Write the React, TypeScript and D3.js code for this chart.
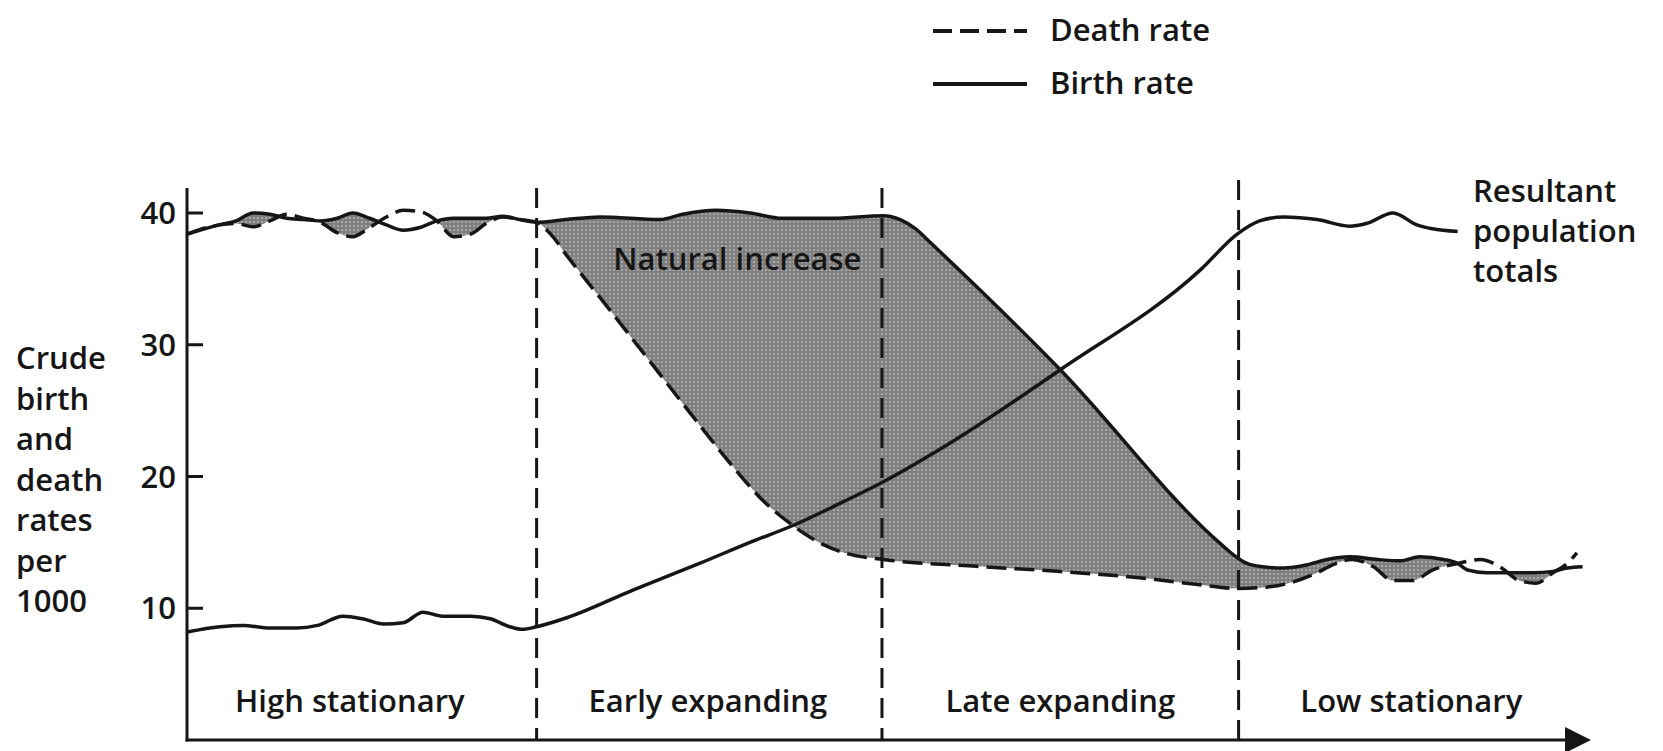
import React from 'react';
import * as d3 from 'd3';

const W = 1663;
const H = 751;

// ---- data (x: position along time axis 0..100, y: rate per 1000) ----
const yTicks = [10, 20, 30, 40];
const stageBounds = [24.9, 49.5, 74.9];
const stageNames = ['High stationary', 'Early expanding', 'Late expanding', 'Low stationary'];
const stageLabelX = [11.6, 37.1, 62.2, 87.2];
const yLabelLines = ['Crude', 'birth', 'and', 'death', 'rates', 'per', '1000'];
const popLabelLines = ['Resultant', 'population', 'totals'];
const legendItems = ['Death rate', 'Birth rate'];
const areaLabel = 'Natural increase';

const birthRate: [number, number][] = [
  [0, 38.4], [2.3, 39.1], [3.5, 39.4], [4.7, 40.0], [5.9, 39.9], [7.1, 39.6], [8.3, 39.5],
  [9.5, 39.4], [10.7, 39.6], [11.8, 40.0], [13.0, 39.6], [14.2, 39.1], [15.4, 38.7],
  [16.6, 38.9], [17.8, 39.4], [19.0, 39.6], [20.2, 39.6], [21.3, 39.6], [22.5, 39.75],
  [23.7, 39.5], [24.9, 39.3], [27.0, 39.5], [29.4, 39.7], [33.7, 39.5], [35.3, 39.9],
  [37.7, 40.2], [40.1, 40.0], [42.4, 39.6], [46.0, 39.6], [49.6, 39.8], [50.8, 39.5],
  [51.9, 38.8], [53.0, 37.7], [62.2, 28.1], [73.5, 15.0], [74.6, 14.0], [75.5, 13.4],
  [76.6, 13.15], [78.1, 13.05], [79.8, 13.3], [81.2, 13.7], [82.8, 13.9], [84.8, 13.7],
  [86.4, 13.6], [87.8, 13.9], [89.5, 13.7], [90.5, 13.4], [91.2, 12.9], [92.6, 12.7],
  [94.0, 12.7], [95.9, 12.7], [97.3, 12.8], [98.3, 13.05], [99.4, 13.15],
];

const deathRate: [number, number][] = [
  [0, 38.4], [2.3, 39.1], [3.5, 39.2], [4.7, 38.95], [5.9, 39.4], [7.1, 39.9], [8.3, 39.6],
  [9.5, 39.3], [10.7, 38.5], [11.8, 38.2], [13.0, 38.9], [14.2, 39.7], [15.4, 40.2],
  [16.6, 40.1], [17.8, 39.4], [19.0, 38.2], [20.2, 38.4], [21.3, 39.2], [22.5, 39.7],
  [23.7, 39.5], [24.9, 39.3], [25.9, 38.4], [27.1, 36.7], [30.0, 32.8], [33.0, 28.7],
  [36.0, 24.6], [39.0, 20.6], [41.0, 18.2], [43.0, 16.4], [45.0, 15.0], [47.0, 14.15],
  [49.6, 13.7], [56.0, 13.2], [62.0, 12.8], [68.0, 12.3], [72.0, 11.8], [74.8, 11.5],
  [76.9, 11.6], [78.8, 12.0], [80.5, 12.7], [81.6, 13.3], [83.0, 13.7], [84.5, 13.15],
  [85.9, 12.1], [87.3, 12.1], [88.7, 12.9], [90.5, 13.4], [92.1, 13.7], [93.5, 13.15],
  [94.9, 12.1], [96.1, 11.9], [97.3, 12.7], [98.3, 13.4], [99.0, 14.2],
];

const population: [number, number][] = [
  [0, 8.2], [2.35, 8.6], [4.0, 8.7], [5.9, 8.5], [7.8, 8.5], [9.3, 8.7], [11.1, 9.4],
  [12.5, 9.2], [14.0, 8.8], [15.4, 8.9], [16.8, 9.7], [18.2, 9.4], [20.2, 9.4], [21.6, 9.2],
  [23.0, 8.6], [23.9, 8.4], [24.9, 8.6], [27.1, 9.3], [31.8, 11.4], [36.5, 13.4],
  [40.1, 15.0], [43.2, 16.3], [46.0, 17.7], [49.6, 19.6], [54.3, 22.5], [62.2, 28.1],
  [72.2, 35.7], [74.8, 38.4], [76.4, 39.4], [78.1, 39.7], [80.5, 39.5], [82.8, 39.0],
  [84.0, 39.2], [85.9, 40.0], [87.6, 39.1], [88.7, 38.8], [90.5, 38.6],
];

const FONT = "'Open Sans', 'Noto Sans', sans-serif";
const INK = '#161616';

export default function App() {
  const x = d3.scaleLinear().domain([0, 100]).range([187, 1591]);
  const y = d3.scaleLinear().domain([0, 40]).range([740, 213]);

  const line = d3
    .line<[number, number]>()
    .x((d) => x(d[0]))
    .y((d) => y(d[1]))
    .curve(d3.curveMonotoneX);
  const belowArea = d3
    .area<[number, number]>()
    .x((d) => x(d[0]))
    .y0(y(-2))
    .y1((d) => y(d[1]))
    .curve(d3.curveMonotoneX);
  const aboveArea = d3
    .area<[number, number]>()
    .x((d) => x(d[0]))
    .y0((d) => y(d[1]))
    .y1(y(45))
    .curve(d3.curveMonotoneX);

  const axisX0 = x(0);
  const axisY0 = y(0);
  const axisTop = y(41.9);
  const arrowTip = x(100);

  const textStyle: React.CSSProperties = {
    fontFamily: FONT,
    fontSize: 31,
    fontWeight: 600,
    fill: INK,
  };

  const legendY = [31, 84];

  return (
    <svg
      width={W}
      height={H}
      viewBox={`0 0 ${W} ${H}`}
      style={{ position: 'absolute', left: 0, top: 0, background: '#fff' }}
    >
      <defs>
        <pattern id="stipple" width={4} height={4} patternUnits="userSpaceOnUse">
          <rect width={4} height={4} fill="#7f7f7f" />
          <circle cx={2} cy={2} r={0.85} fill="#cfcfcf" />
        </pattern>
        <clipPath id="aboveDeath">
          <path d={aboveArea(deathRate) || ''} />
        </clipPath>
      </defs>
      <rect width={W} height={H} fill="#fff" />

      {/* natural increase shading: below birth and above death */}
      <path d={belowArea(birthRate) || ''} fill="url(#stipple)" clipPath="url(#aboveDeath)" />

      {/* stage boundaries */}
      {stageBounds.map((b, i) => (
        <line
          key={i}
          x1={x(b)}
          x2={x(b)}
          y1={i === 2 ? axisTop - 8 : axisTop}
          y2={axisY0}
          stroke={INK}
          strokeWidth={3}
          strokeDasharray="20 10"
        />
      ))}

      {/* axes */}
      <line x1={axisX0} x2={axisX0} y1={axisTop} y2={axisY0 + 1.5} stroke={INK} strokeWidth={3} />
      <line x1={axisX0 - 1.5} x2={arrowTip - 20} y1={axisY0} y2={axisY0} stroke={INK} strokeWidth={3} />
      <path
        d={`M${arrowTip},${axisY0} L${arrowTip - 26},${axisY0 - 13} L${arrowTip - 26},${axisY0 + 13} Z`}
        fill={INK}
      />
      {yTicks.map((t) => (
        <g key={t}>
          <line x1={axisX0} x2={axisX0 + 16} y1={y(t)} y2={y(t)} stroke={INK} strokeWidth={3} />
          <text x={axisX0 - 11} y={y(t)} dy="0.36em" textAnchor="end" style={textStyle}>
            {t}
          </text>
        </g>
      ))}

      {/* series */}
      <path d={line(population) || ''} fill="none" stroke={INK} strokeWidth={3.5} strokeLinejoin="round" />
      <path d={line(birthRate) || ''} fill="none" stroke={INK} strokeWidth={3.5} strokeLinejoin="round" />
      <path
        d={line(deathRate) || ''}
        fill="none"
        stroke={INK}
        strokeWidth={3.5}
        strokeDasharray="20 8"
      />

      {/* labels */}
      <text x={x(39.2)} y={270} textAnchor="middle" style={textStyle}>
        {areaLabel}
      </text>
      {stageNames.map((s, i) => (
        <text key={s} x={x(stageLabelX[i])} y={712} textAnchor="middle" style={textStyle}>
          {s}
        </text>
      ))}
      {yLabelLines.map((l, i) => (
        <text key={l} x={16} y={369 + i * 40.5} style={textStyle}>
          {l}
        </text>
      ))}
      {popLabelLines.map((l, i) => (
        <text key={l} x={1473} y={202 + i * 40} style={textStyle}>
          {l}
        </text>
      ))}

      {/* legend */}
      {legendItems.map((l, i) => (
        <g key={l}>
          <line
            x1={933}
            x2={1027}
            y1={legendY[i]}
            y2={legendY[i]}
            stroke={INK}
            strokeWidth={4}
            strokeDasharray={i === 0 ? '19 8' : undefined}
          />
          <text x={1050} y={legendY[i] - 1} dy="0.36em" style={textStyle}>
            {l}
          </text>
        </g>
      ))}
    </svg>
  );
}
